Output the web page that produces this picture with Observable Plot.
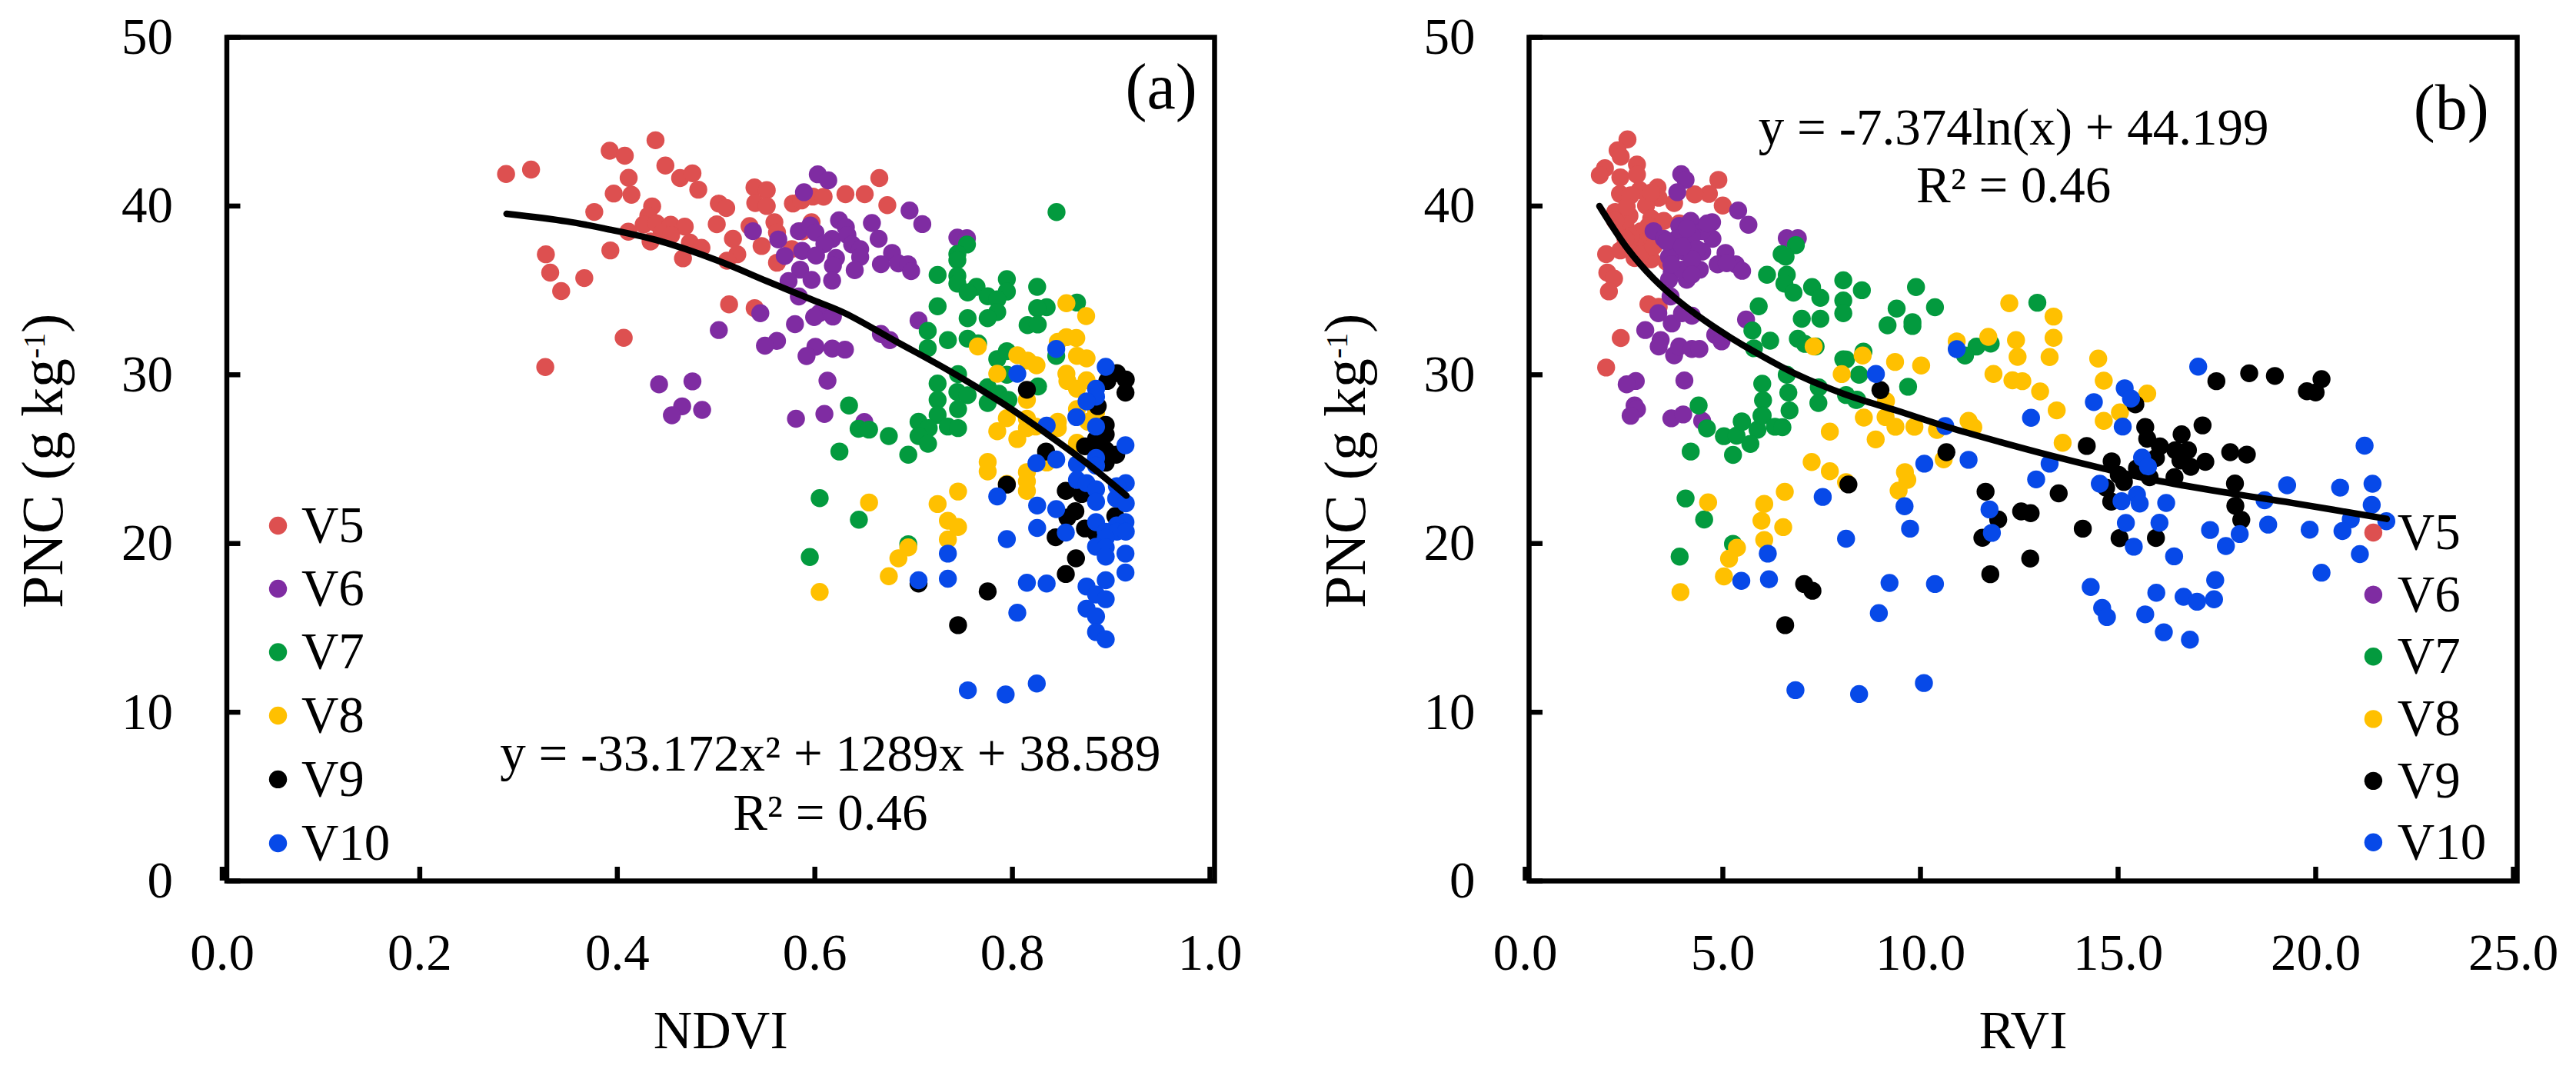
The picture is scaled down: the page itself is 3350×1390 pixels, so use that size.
<!DOCTYPE html>
<html>
<head>
<meta charset="utf-8">
<script src="https://cdn.jsdelivr.net/npm/d3@7"></script>
<script src="https://cdn.jsdelivr.net/npm/@observablehq/plot@0.6"></script>
<style>
html,body{margin:0;padding:0;background:#fff;}
#wrap{display:flex;width:3350px;height:1390px;overflow:hidden;}
svg{display:block;}
</style>
</head>
<body>
<div id="wrap"></div>
<script>
const seriesNames = ["V5","V6","V7","V8","V9","V10"];
const seriesColors = ["#dd5050","#7f2ca2","#039a3e","#ffc000","#000000","#0749e8"];
const yTicks = [0,10,20,30,40,50];
const ndviTicks = [0,0.2,0.4,0.6,0.8,1.0];
const rviTicks = [0,5,10,15,20,25];

const ndviV5 = [[.2827,41.9],[.308,42.16],[.3876,43.28],[.4029,42.98],[.434,43.9],[.444,42.4],[.4068,41.67],[.3917,40.74],[.4096,40.67],[.4589,41.66],[.4714,41.94],[.4773,40.97],[.372,39.65],[.4306,39.98],[.4267,39.42],[.422,38.9],[.435,38.97],[.4493,38.89],[.4636,38.78],[.4065,38.48],[.4402,38.36],[.4498,38.28],[.429,37.9],[.3883,37.37],[.4688,37.83],[.4805,37.52],[.4618,36.9],[.323,37.14],[.3274,36.05],[.3619,35.73],[.3385,34.96],[.4018,32.19],[.3224,30.46],[.4981,40.15],[.5056,39.88],[.496,38.92],[.5124,38.06],[.5168,37.14],[.5064,36.76],[.5342,41.1],[.5466,40.94],[.535,40.18],[.5466,40],[.5292,38.81],[.5544,39.04],[.557,38.43],[.5414,37.63],[.557,36.64],[.5085,34.17],[.5344,33.95],[.5731,40.15],[.5817,40.33],[.5933,40.56],[.6042,40.55],[.6263,40.7],[.572,37.45],[.592,39.04],[.583,38.5],[.6606,41.66],[.6458,40.7],[.6687,40.05]];
const ndviV6 = [[.5983,41.88],[.6089,41.52],[.5843,40.82],[.5326,38.51],[.5583,38.02],[.6198,39.15],[.5791,38.51],[.5907,38.85],[.5959,38.43],[.6128,38.05],[.605,37.75],[.5825,37.34],[.5965,37.07],[.5648,37.04],[.6167,36.92],[.6136,36.46],[.5804,36.23],[.592,35.62],[.6128,35.58],[.5687,35.55],[.5791,34.64],[.5401,33.65],[.5752,33],[.5998,33.65],[.5946,33.42],[.6136,33.45],[.4981,32.65],[.557,32.01],[.5448,31.72],[.5959,31.66],[.5869,31.11],[.613,31.55],[.6258,31.49],[.6081,29.65],[.4376,29.43],[.4714,29.61],[.461,28.13],[.4812,27.92],[.4506,27.6],[.5762,27.39],[.605,27.68],[.6912,39.73],[.7041,38.93],[.6267,38.74],[.6531,38.99],[.6599,38.06],[.6283,38.28],[.6331,37.72],[.6412,37.44],[.6412,36.98],[.6735,37.22],[.6622,36.55],[.6799,36.6],[.6896,36.55],[.6928,36.14],[.6357,36.2],[.7003,33.22],[.6622,32.42],[.6712,32.05],[.6454,27.2],[.7396,38.13],[.7493,38.09]];
const ndviV7 = [[.84,39.64],[.7493,37.72],[.7396,37.16],[.7396,36.79],[.7196,35.92],[.7396,35.86],[.7396,35.4],[.759,35.21],[.75,34.88],[.7703,34.65],[.7897,35.67],[.7897,34.93],[.78,34.47],[.8204,35.21],[.8607,34.28],[.83,34],[.8204,33.95],[.78,33.72],[.7703,33.35],[.7196,34.06],[.75,33.35],[.8107,32.94],[.821,32.98],[.7096,32.6],[.73,32.05],[.75,32.14],[.7606,31.86],[.7096,31.58],[.78,30.93],[.7897,31.4],[.8397,31.12],[.7897,30],[.7403,30.04],[.7196,29.48],[.8213,29.31],[.7396,28.98],[.75,28.79],[.7703,29.26],[.7816,28.88],[.7913,28.51],[.7703,28.33],[.7196,28.51],[.7403,27.96],[.7196,27.62],[.7003,27.21],[.73,26.93],[.7403,26.84],[.7106,26.84],[.7003,26.37],[.7099,25.91],[.6899,25.26],[.6299,28.18],[.6396,26.8],[.6502,26.75],[.6702,26.37],[.6202,25.45],[.6002,22.69],[.6399,21.41],[.6899,19.96],[.5902,19.2]];
const ndviV8 = [[.85,34.24],[.87,33.48],[.7603,31.68],[.8413,31.95],[.85,32.23],[.86,32.18],[.8607,31.12],[.8704,30.97],[.8003,31.16],[.8107,30.84],[.8197,30.56],[.78,30.06],[.85,30.06],[.851,29.63],[.8607,29.17],[.8704,29.67],[.81,28.51],[.8607,27.96],[.88,27.77],[.872,27.21],[.7897,27.43],[.81,27.4],[.8413,27.21],[.8413,26.84],[.8188,26.93],[.78,26.65],[.8003,26.19],[.81,26.84],[.8607,25.97],[.83,24.8],[.7703,24.83],[.7703,24.27],[.81,24.23],[.81,23.68],[.81,23.12],[.7897,23.53],[.7403,23.08],[.7196,22.34],[.6502,22.43],[.73,21.35],[.7403,20.98],[.73,20.24],[.6899,19.77],[.6799,19.12],[.6702,18.06],[.6002,17.13]];
const ndviV9 = [[.9011,30.1],[.9101,29.72],[.8914,29.63],[.9098,28.94],[.81,29.11],[.8817,28.14],[.8898,27.03],[.8898,26.47],[.88,26.19],[.8688,25.76],[.8898,25.54],[.9004,25.26],[.8898,24.79],[.8294,25.45],[.8817,25.35],[.7897,23.49],[.8494,23.12],[.8655,22.93],[.8591,21.91],[.851,21.54],[.8688,20.89],[.88,20.61],[.8391,20.37],[.8597,19.12],[.8494,18.19],[.7003,17.63],[.7703,17.16],[.7403,15.16],[.8995,21.63]];
const ndviV10 = [[.8898,30.47],[.88,29.17],[.88,28.7],[.8704,28.42],[.8601,27.49],[.88,26.93],[.9098,25.82],[.83,26.99],[.8003,30.06],[.8397,31.53],[.8197,24.76],[.8397,24.98],[.8607,24.7],[.88,25.07],[.88,24.61],[.8607,23.77],[.8704,23.58],[.88,23.21],[.88,22.47],[.9101,23.58],[.9011,23.4],[.9004,22.66],[.9101,22.38],[.88,21.26],[.9098,21.26],[.9011,21.07],[.8898,20.7],[.9011,20.7],[.9101,20.7],[.8898,20.33],[.88,19.81],[.8898,19.77],[.9098,19.4],[.8898,19.22],[.9098,18.28],[.8898,17.82],[.8704,17.45],[.88,16.98],[.8898,16.7],[.8704,16.14],[.88,15.68],[.88,14.75],[.8898,14.32],[.78,22.79],[.8204,22.25],[.8397,22.04],[.8204,20.92],[.8494,20.65],[.7897,20.26],[.73,19.4],[.7003,17.82],[.73,17.91],[.81,17.67],[.83,17.63],[.8003,15.9],[.7502,11.3],[.7885,11.05],[.82,11.7]];

const rviV5 = [[2.49,43.95],[2.24,43.3],[2.32,42.92],[2.73,42.46],[1.92,42.24],[1.79,41.83],[2.73,41.86],[2.31,41.7],[3.25,41.1],[2.3,40.72],[2.8,40.94],[4.79,41.55],[4.55,40.72],[4.19,40.69],[4.9,40.03],[3.67,40.18],[3.28,40.49],[2.96,40.03],[2.18,39.65],[2.54,39.42],[3.09,39.27],[3.41,39.12],[3.8,38.97],[2.44,38.82],[2.83,38.51],[2.96,37.75],[1.95,37.15],[2.31,37.37],[2.7,37.6],[2.67,36.92],[3.09,36.84],[3.48,36.69],[1.98,36.05],[2.15,35.7],[2.02,34.94],[3.02,34.18],[3.28,34.03],[2.32,32.18],[1.95,30.43],[2.57,38.21],[3.18,38.36],[2.57,40.64],[3.09,40.79],[2.44,38.06],[2.83,37.15],[3.15,37.6],[2.18,39.12],[2.47,39.96],[3.02,38.82]];
const rviV6 = [[3.85,41.89],[3.96,41.55],[3.75,40.82],[5.29,39.73],[5.55,38.89],[6.52,38.09],[6.8,38.09],[4.63,39.04],[4.09,39.12],[3.8,38.82],[3.15,38.51],[3.41,38.06],[4.64,38.06],[4.38,38.51],[4.12,38.21],[3.74,38.06],[3.61,37.07],[3.93,37.3],[4.38,37.3],[4.97,37.22],[3.54,36.99],[4.77,36.54],[5.23,36.54],[5,36.61],[5.39,36.16],[4.32,36.23],[3.61,36.08],[3.99,35.63],[3.54,35.63],[3.58,34.64],[3.27,33.65],[4.12,33.5],[3.61,33.04],[3.87,33.65],[2.94,32.65],[3.33,32.06],[3.28,31.68],[3.67,31.15],[3.8,31.68],[4.12,31.53],[4.31,31.53],[3.93,29.66],[2.7,29.63],[2.47,29.43],[2.67,28.18],[2.73,27.95],[2.57,27.57],[5.49,33.27],[4.71,32.36],[4.87,31.98],[3.6,27.42],[3.9,27.65],[4.38,27.27],[4.25,37.45],[3.87,36.23],[4.12,36.84],[4.51,38.97],[3.99,38.67],[3.48,37.9],[4.12,35.93],[3.87,37.6],[3.6,36.54]];
const rviV7 = [[9.79,35.2],[8.42,35.01],[9.3,33.92],[10.27,34],[9.07,32.93],[9.7,33.12],[9.7,32.89],[12.86,34.27],[11.32,31.67],[11.68,31.85],[11.03,31.14],[8.46,31.37],[8.35,30],[8.02,30.9],[9.59,29.29],[8.27,28.51],[8.02,28.8],[6.75,37.68],[6.39,37.15],[6.49,37],[6.02,35.93],[6.52,35.93],[6.46,35.4],[6.69,34.87],[7.16,35.2],[7.37,34.56],[7.95,35.6],[7.95,34.4],[7.95,33.65],[6.9,33.32],[7.37,33.32],[5.81,34.06],[5.65,32.62],[6.1,32.02],[6.8,32.13],[6.98,31.83],[7.25,31.68],[5.69,31.57],[6.52,30],[7.33,29.25],[5.9,29.47],[5.92,28.49],[6.56,28.94],[6.59,27.88],[7.32,28.33],[4.29,28.18],[5.39,27.2],[5.88,27.57],[4.5,26.82],[4.93,26.36],[5.25,26.39],[5.38,27.24],[5.78,26.74],[5.91,27.58],[6.22,26.92],[6.41,26.89],[5.6,25.9],[5.16,25.25],[4.09,25.45],[3.96,22.67],[4.43,21.42],[5.16,19.98],[3.81,19.22],[8.3,28.52],[7.95,30.92]];
const rviV8 = [[12.15,34.24],[13.27,33.45],[13.27,32.19],[12.32,32.05],[12.36,31.06],[13.17,31.05],[10.82,31.98],[11.62,32.25],[11.75,30.05],[12.23,29.67],[12.48,29.62],[12.93,29.01],[13.35,27.89],[14.4,30.96],[14.54,29.65],[15.64,28.89],[14.95,27.77],[14.54,27.27],[13.5,25.97],[8.44,31.14],[9.26,30.76],[9.92,30.55],[9.03,28.44],[8.47,27.46],[9.02,27.49],[9.27,26.92],[9.75,26.92],[8.77,26.17],[10.32,26.73],[11.12,27.27],[11.24,26.89],[10.49,24.99],[9.51,24.23],[9.57,23.77],[9.35,23.13],[7.2,31.68],[7.91,30.04],[7.61,26.63],[7.15,24.83],[7.61,24.28],[8.02,23.63],[6.47,23.06],[5.95,22.35],[5.88,21.35],[6.43,20.97],[5.95,20.21],[4.53,22.44],[5.26,19.75],[5.06,19.1],[4.93,18.05],[3.83,17.12]];
const rviV9 = [[17.39,29.62],[18.22,30.09],[18.87,29.93],[20.05,29.74],[19.68,29.02],[19.9,28.95],[17.04,27],[16.51,26.47],[15.59,26.9],[15.64,26.21],[15.96,25.76],[16.67,25.53],[16.35,25.53],[17.74,25.41],[18.16,25.27],[17.11,24.84],[16.48,24.92],[16.74,24.54],[15.86,25.07],[15.7,23.93],[16.33,23.93],[17.86,23.55],[17.87,22.23],[18.02,21.4],[15.86,20.33],[15.34,28.25],[14.11,25.78],[14.74,24.87],[15.38,24.46],[15.05,23.65],[14.6,23.3],[14.92,24.07],[14.73,22.48],[14.94,20.32],[14.01,20.88],[13.4,22.97],[11.55,23.07],[11.87,21.42],[11.47,20.34],[12.45,21.9],[12.69,21.8],[12.68,19.11],[11.67,18.18],[10.56,25.41],[8.89,29.09],[8.08,23.5],[6.96,17.6],[7.17,17.2],[6.48,15.16]];
const rviV10 = [[16.93,30.48],[21.14,25.8],[21.34,23.54],[20.52,23.31],[19.18,23.45],[21.32,22.29],[18.61,22.56],[21.69,21.32],[20.79,21.43],[20.58,20.74],[19.75,20.82],[18.7,21.12],[17.98,20.56],[17.23,20.8],[17.63,19.85],[21.02,19.37],[20.05,18.27],[16.12,22.4],[15.95,21.23],[16.32,19.24],[17.36,17.83],[15.87,17.08],[17.33,16.69],[16.56,16.84],[16.9,16.55],[15.59,15.8],[16.06,14.74],[16.72,14.3],[15.07,29.2],[15.23,28.59],[14.29,28.38],[15.02,26.93],[12.7,27.45],[15.51,25.09],[15.66,24.56],[13.17,24.73],[12.83,23.8],[14.44,23.54],[15.38,22.89],[14.99,22.51],[15.45,22.37],[15.1,21.22],[15.3,19.81],[14.21,17.42],[14.5,16.18],[14.62,15.64],[8.775,30.05],[10.82,31.52],[10.53,26.96],[10,24.73],[11.12,24.96],[9.5,22.21],[9.64,20.88],[11.65,22.02],[11.71,20.63],[9.12,17.66],[10.27,17.6],[8.85,15.87],[8.02,20.28],[7.43,22.76],[6.04,19.4],[5.37,17.79],[6.07,17.88],[6.74,11.31],[8.35,11.08],[9.99,11.73]];

const ndviCurve = [[.2832,39.54],[.3442,39.09],[.3832,38.66],[.435,37.98],[.4973,36.76],[.5466,35.55],[.5907,34.49],[.6258,33.65],[.6783,31.95],[.73,30.28],[.7848,28.33],[.8333,26.37],[.872,24.7],[.9107,22.84]];
const rviCurve = [[1.78,40],[2.5,37.45],[3.15,35.7],[3.77,34.4],[4.45,33.2],[5.1,32.2],[5.75,31.3],[6.72,30.08],[8.02,28.82],[9.31,27.87],[10.61,26.89],[11.91,26.02],[13.2,25.21],[14.5,24.46],[15.8,23.77],[17.73,22.98],[19.3,22.41],[21.7,21.46]];

const ndviLegendY = [21.06,17.32,13.56,9.8,6.02,2.23];
const rviLegendY = [20.65,16.97,13.3,9.6,5.93,2.29];

const FONT = "'Liberation Serif','Times New Roman',serif";
const AXIS_TEXT = 67, TITLE_TEXT = 70, YLABEL_TEXT = 76, PANEL_TEXT = 84;

function panel(cfg){
  const dots = cfg.series.flatMap((pts,i)=>pts.map(p=>({x:p[0],y:p[1],c:seriesColors[i]})));
  const legend = seriesNames.map((n,i)=>({n,y:cfg.legendY[i],c:seriesColors[i]}));
  const svg = Plot.plot({
    width:1675, height:1390,
    marginLeft:cfg.ml, marginRight:cfg.mr, marginTop:48, marginBottom:245,
    style:{fontFamily:FONT, fontSize:AXIS_TEXT+"px", color:"#000", background:"#fff", overflow:"visible"},
    x:{domain:cfg.xDomain, label:null},
    y:{domain:[0,50], label:null},
    marks:[
      Plot.axisY(yTicks,{anchor:"left", tickSize:-18, tickPadding:88, strokeWidth:6.5, label:null, fontSize:AXIS_TEXT, tickFormat:d=>String(d)}),
      Plot.axisX(cfg.xTicks,{anchor:"bottom", tickSize:-18, tickPadding:86, strokeWidth:6.5, label:null, fontSize:AXIS_TEXT, tickFormat:d3.format(".1f"), dx:cfg.tickDx}),
      Plot.dot(dots,{x:"x",y:"y",r:11.7,fill:d=>d.c,stroke:"none"}),
      Plot.line(cfg.curve,{x:d=>d[0],y:d=>d[1],stroke:"#000",strokeWidth:8.5,strokeLinecap:"round",curve:"catmull-rom"}),
      Plot.dot(legend,{x:()=>cfg.legendX,y:"y",r:11.7,fill:d=>d.c,stroke:"none"}),
      Plot.text(legend,{x:()=>cfg.legendTextX,y:"y",text:"n",textAnchor:"start",fontSize:AXIS_TEXT,fill:"#000"}),
      ...cfg.notes.map(t=>Plot.text([t],{x:()=>t.x,y:()=>t.y,text:()=>t.s,fontSize:t.size,rotate:t.rotate||0,fill:"#000",textAnchor:"middle"})),
      Plot.frame({stroke:"#000",strokeWidth:6.5})
    ]
  });
  d3.select(svg).selectAll("text").filter(function(){return this.textContent==="PNC (g kg-1)";}).each(function(){
    const t = d3.select(this);
    t.text("PNC (g kg");
    t.append("tspan").attr("dy","-0.58em").attr("font-size","0.52em").text("-1");
    t.append("tspan").attr("dy","0.30em").text(")");
  });
  return svg;
}

const wrap = document.getElementById("wrap");
wrap.append(panel({
  ml:294.5, mr:96,
  xDomain:[0,1], xTicks:ndviTicks, tickDx:-6,
  series:[ndviV5,ndviV6,ndviV7,ndviV8,ndviV9,ndviV10],
  curve:ndviCurve, legendY:ndviLegendY, legendX:.0518, legendTextX:.0755,
  notes:[
    {s:"NDVI",x:.5,y:-8.9,size:TITLE_TEXT},
    {s:"PNC (g kg-1)",x:-.1855,y:24.89,size:YLABEL_TEXT,rotate:-90},
    {s:"(a)",x:.946,y:47.0,size:PANEL_TEXT},
    {s:"y = -33.172x\u00B2 + 1289x + 38.589",x:.611,y:7.5,size:67},
    {s:"R\u00B2 = 0.46",x:.611,y:4.0,size:67}
  ]
}));
wrap.append(panel({
  ml:313, mr:77,
  xDomain:[0,25], xTicks:rviTicks, tickDx:-5,
  series:[rviV5,rviV6,rviV7,rviV8,rviV9,rviV10],
  curve:rviCurve, legendY:rviLegendY, legendX:21.36, legendTextX:21.97,
  notes:[
    {s:"RVI",x:12.5,y:-8.9,size:TITLE_TEXT},
    {s:"PNC (g kg-1)",x:-4.63,y:24.89,size:YLABEL_TEXT,rotate:-90},
    {s:"(b)",x:23.33,y:45.8,size:PANEL_TEXT},
    {s:"y = -7.374ln(x) + 44.199",x:12.26,y:44.6,size:67},
    {s:"R\u00B2 = 0.46",x:12.26,y:41.2,size:67}
  ]
}));
</script>
</body>
</html>
